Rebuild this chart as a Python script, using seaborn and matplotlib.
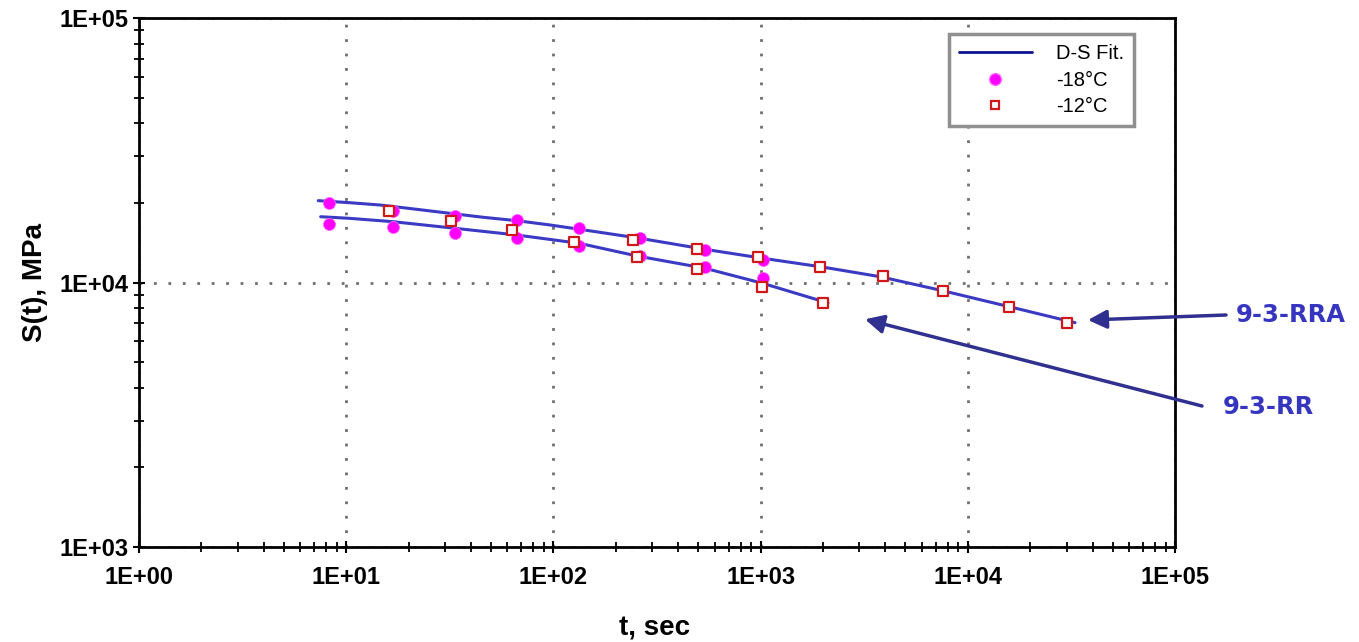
import numpy as np
import pandas as pd
import matplotlib
matplotlib.use("Agg")
import matplotlib.pyplot as plt
import seaborn as sns
from matplotlib.ticker import FuncFormatter, LogLocator, NullFormatter
from matplotlib.lines import Line2D

# D-S fit curves (t in sec, S in MPa)
fit_rra_t = [7.33, 10.4, 14.6, 21.9, 31.7, 45.9, 66.5, 96.3, 134, 262, 539, 1023, 1950, 3770, 7566, 15860, 32920]
fit_rra_s = [20390, 20030, 19630, 18910, 18260, 17640, 17130, 16500, 15890, 14690, 13350, 12350, 11470, 10520, 9310, 8100, 7050]
fit_rr_t = [7.53, 10.4, 16.8, 33.5, 66.5, 133, 253, 539, 1023, 2115]
fit_rr_s = [17730, 17480, 16980, 16030, 15120, 14070, 12600, 11320, 9930, 8370]

# -18°C measurements
t_18 = [8.26, 16.8, 33.5, 66.5, 133, 262, 539, 1023]
rra_18 = [20030, 18680, 17840, 17230, 16030, 14690, 13270, 12170]
rr_18 = [16600, 16260, 15430, 14690, 13780, 12600, 11470, 10370]

# -12°C measurements
t_12_rra = [243, 491, 975, 1935, 3886, 7566, 15860, 30010]
rra_12 = [14480, 13390, 12460, 11420, 10580, 9310, 8100, 7050]
t_12_rr = [16.1, 31.9, 63.3, 126, 253, 491, 1012, 2007]
rr_12 = [18680, 17130, 15800, 14190, 12520, 11250, 9640, 8350]

x_ticks = [1, 10, 100, 1000, 10000, 100000]
y_ticks = [1000, 10000, 100000]

sns.set_style("white")
plt.rcParams['font.family'] = ['Liberation Sans', 'DejaVu Sans']
plt.rcParams['text.color'] = 'black'

fit_df = pd.concat([
    pd.DataFrame({'t': fit_rra_t, 's': fit_rra_s, 'spec': '9-3-RRA'}),
    pd.DataFrame({'t': fit_rr_t, 's': fit_rr_s, 'spec': '9-3-RR'}),
])
d18 = pd.DataFrame({'t': t_18 + t_18, 's': rra_18 + rr_18})
d12 = pd.DataFrame({'t': t_12_rra + t_12_rr, 's': rra_12 + rr_12})

line_col = '#3a3ac4'
fig = plt.figure(figsize=(13.59, 6.42), dpi=100)
ax = fig.add_axes([139 / 1359, 1 - 547 / 642, 1036 / 1359, 529 / 642])

sns.lineplot(data=fit_df, x='t', y='s', units='spec', estimator=None, sort=False,
             color=line_col, lw=2.2, ax=ax, legend=False, zorder=3)
sns.scatterplot(data=d18, x='t', y='s', color='#ff00ff', s=75, marker='o',
                edgecolor='#ff66ff', linewidth=0.5, ax=ax, legend=False, zorder=4)
sns.scatterplot(data=d12, x='t', y='s', color='white', s=42, marker='s',
                edgecolor='#d01818', linewidth=1.6, ax=ax, legend=False, zorder=5)

ax.set_xscale('log')
ax.set_yscale('log')
ax.set_xlim(1, 1e5)
ax.set_ylim(1e3, 1e5)
ax.set_xticks(x_ticks)
ax.set_yticks(y_ticks)
fmt = FuncFormatter(lambda v, _: "1E+%02d" % int(round(np.log10(v))))
ax.xaxis.set_major_formatter(fmt)
ax.yaxis.set_major_formatter(fmt)
ax.xaxis.set_minor_locator(LogLocator(base=10, subs=np.arange(2, 10)))
ax.yaxis.set_minor_locator(LogLocator(base=10, subs=np.arange(2, 10)))
ax.xaxis.set_minor_formatter(NullFormatter())
ax.yaxis.set_minor_formatter(NullFormatter())

ax.tick_params(which='both', bottom=True, left=True, top=False, right=False)
ax.tick_params(which='major', direction='inout', length=9, width=1.5, color='black',
               labelsize=17, labelcolor='black', pad=3)
ax.tick_params(which='minor', direction='inout', length=7, width=1.3, color='black')
ax.tick_params(axis='x', which='major', pad=9)
for lab in ax.get_xticklabels() + ax.get_yticklabels():
    lab.set_fontweight('bold')

for sp in ax.spines.values():
    sp.set_color('black')
    sp.set_linewidth(2)

ax.grid(True, which='major', color='#707070', linestyle=(0, (1, 4.2)), linewidth=2)

ax.set_xlabel('t, sec', fontsize=20, fontweight='bold', color='black')
ax.set_ylabel('S(t), MPa', fontsize=20, fontweight='bold', color='black')
ax.xaxis.set_label_coords(0.498, -0.13)
ax.yaxis.set_label_coords(-0.088, 0.5)

handles = [
    Line2D([], [], color='#101090', lw=2),
    Line2D([], [], color='#ff00ff', marker='o', ls='none', ms=8.5, mec='#ff66ff'),
    Line2D([], [], color='#d01818', marker='s', ls='none', ms=6, mfc='white', mew=1.6),
]
leg = ax.legend(handles, ['D-S Fit.', '-18°C', '-12°C'], loc='upper right',
                bbox_to_anchor=(0.9604, 0.9698), borderaxespad=0, fontsize=14.5,
                handlelength=3.6, handletextpad=1.2, labelspacing=0.38,
                fancybox=False, framealpha=1, borderpad=0.5, labelcolor='black')
leg.get_frame().set_edgecolor('#909090')
leg.get_frame().set_linewidth(2.5)

# specimen labels with arrows outside the plot
txt_col = '#3535c0'
arr_col = '#303090'
ax.annotate('', xy=(38000, 7215), xycoords='data',
            xytext=(1226 / 1359, 1 - 315 / 642), textcoords='figure fraction',
            arrowprops=dict(arrowstyle='-|>', color=arr_col, lw=2.5, mutation_scale=28,
                            shrinkA=0, shrinkB=0),
            annotation_clip=False)
ax.annotate('', xy=(3190, 7260), xycoords='data',
            xytext=(1202 / 1359, 1 - 406 / 642), textcoords='figure fraction',
            arrowprops=dict(arrowstyle='-|>', color=arr_col, lw=2.5, mutation_scale=28,
                            shrinkA=0, shrinkB=0),
            annotation_clip=False)
fig.text(1236 / 1359, 1 - 315 / 642, '9-3-RRA', color=txt_col, fontsize=17.5,
         fontweight='bold', family='DejaVu Sans', ha='left', va='center')
fig.text(1223 / 1359, 1 - 407 / 642, '9-3-RR', color=txt_col, fontsize=17.5,
         fontweight='bold', family='DejaVu Sans', ha='left', va='center')

fig.savefig('out.png', dpi=100)
